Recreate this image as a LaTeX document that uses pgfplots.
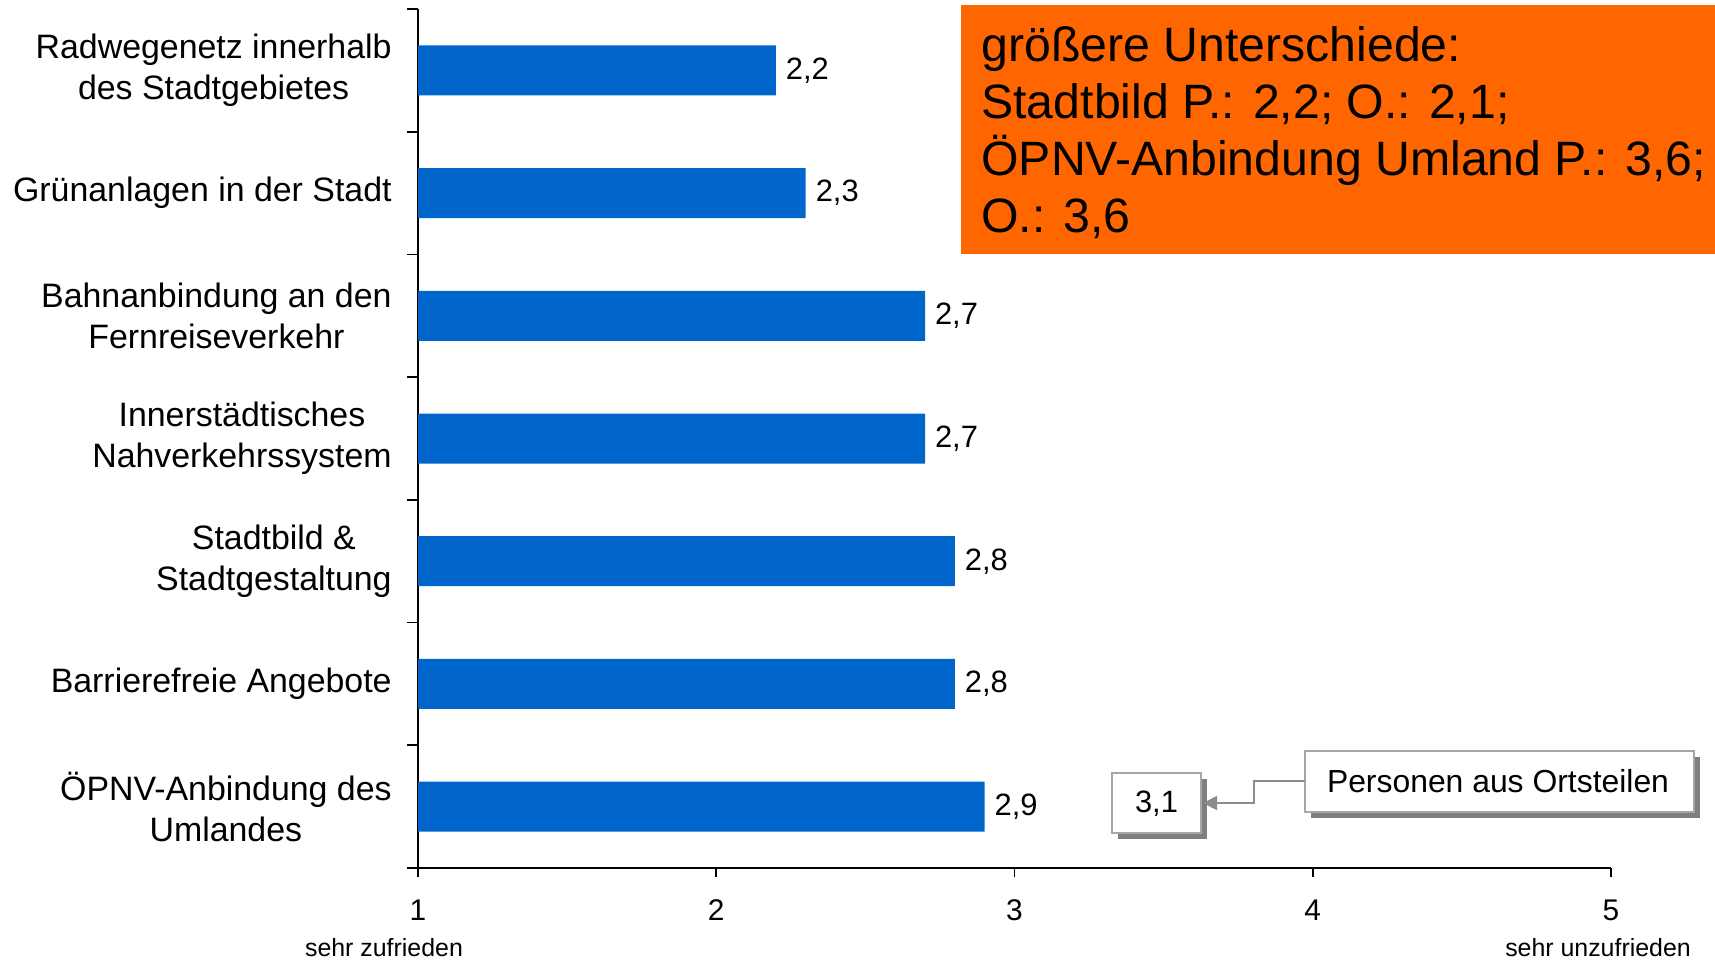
\documentclass[border=0pt]{standalone}
\usepackage{pgfplots}
\pgfplotsset{compat=1.18}
\usepackage{fontspec}
\setmainfont{Liberation Sans}
\usetikzlibrary{arrows.meta}
\definecolor{barblue}{HTML}{0066CC}
\definecolor{boxorange}{HTML}{FF6600}
\definecolor{callgray}{HTML}{8C8C8C}
\definecolor{shadowgray}{HTML}{7F7F7F}
\definecolor{bordergray}{HTML}{A6A6A6}
\begin{document}
\begin{tikzpicture}
\useasboundingbox (0,0) rectangle (857.5bp,480bp);
\fill[boxorange] (480.5bp,353bp) rectangle (857.5bp,477.5bp);
\begin{axis}[
  at={(209bp,46bp)}, anchor=south west, scale only axis,
  width=596.5bp, height=429.5bp,
  xbar, bar width=25bp,
  xmin=1, xmax=5, ymin=-0.5, ymax=6.5, y dir=reverse,
  axis x line*=bottom, axis y line*=left,
  axis line style={line width=1bp, black},
  /pgf/number format/assume math mode=true,
  xtick={1,2,3,4,5},
  ytick={0,1,2,3,4,5,6},
  yticklabels={
    {Radwegenetz innerhalb\\des Stadtgebietes},
    {Grünanlagen in der Stadt},
    {Bahnanbindung an den\\Fernreiseverkehr},
    {Innerstädtisches\\Nahverkehrssystem},
    {Stadtbild \&\\Stadtgestaltung},
    {Barrierefreie Angebote},
    {ÖPNV-Anbindung des\\Umlandes}},
  minor ytick={-0.5,0.5,1.5,2.5,3.5,4.5,5.5,6.5},
  tick align=outside,
  major tick length=4.5bp, minor tick length=5.5bp,
  major y tick style={draw=none},
  minor y tick style={black, line width=0.8bp},
  x tick style={black, line width=0.8bp},
  yticklabel style={align=center, font=\fontsize{17}{20.5}\selectfont, inner sep=0pt, xshift=-8.5bp},
  xticklabel style={font=\fontsize{15}{18}\selectfont, yshift=-8bp},
  nodes near coords={\pgfmathprintnumber[fixed,fixed zerofill,precision=1,use comma]{\pgfplotspointmeta}},
  every node near coord/.append style={font=\fontsize{15.5}{18}\selectfont, black, xshift=1.5bp},
]
\addplot[fill=barblue, draw=none] coordinates {
  (2.2,0) (2.3,1) (2.7,2) (2.7,3) (2.8,4) (2.8,5) (2.9,6)
};
\end{axis}
% orange note text
\node[anchor=base west, inner sep=0pt, font=\fontsize{24.2}{28}\selectfont] at (490.5bp,449bp) {größere Unterschiede:};
\node[anchor=base west, inner sep=0pt, font=\fontsize{24.2}{28}\selectfont] at (490.5bp,420.5bp) {Stadtbild P.: 2,2; O.: 2,1;};
\node[anchor=base west, inner sep=0pt, font=\fontsize{24.2}{28}\selectfont] at (490.5bp,392bp) {ÖPNV-Anbindung Umland P.: 3,6;};
\node[anchor=base west, inner sep=0pt, font=\fontsize{24.2}{28}\selectfont] at (490.5bp,363.5bp) {O.: 3,6};
% x-axis end labels
\node[font=\fontsize{12.5}{15}\selectfont] at (192bp,6bp) {sehr zufrieden};
\node[font=\fontsize{12.5}{15}\selectfont] at (799bp,6bp) {sehr unzufrieden};
% callout 3,1
\fill[shadowgray] (559bp,60.5bp) rectangle (603.5bp,90.5bp);
\draw[draw=bordergray, fill=white, line width=1bp] (556bp,63.5bp) rectangle (600.5bp,93.5bp);
\node[font=\fontsize{15.5}{18}\selectfont] at (578.25bp,78bp) {3,1};
% callout Personen aus Ortsteilen
\fill[shadowgray] (655.5bp,71bp) rectangle (850bp,101.5bp);
\draw[draw=bordergray, fill=white, line width=1bp] (652.5bp,74bp) rectangle (847bp,104.5bp);
\node[font=\fontsize{16}{19}\selectfont] at (749bp,89.25bp) {Personen aus Ortsteilen};
\draw[callgray, line width=1bp, -{Triangle[length=7bp,width=7bp]}] (652.5bp,89.5bp) -- (626.75bp,89.5bp) -- (626.75bp,78.5bp) -- (601.5bp,78.5bp);
\end{tikzpicture}
\end{document}
